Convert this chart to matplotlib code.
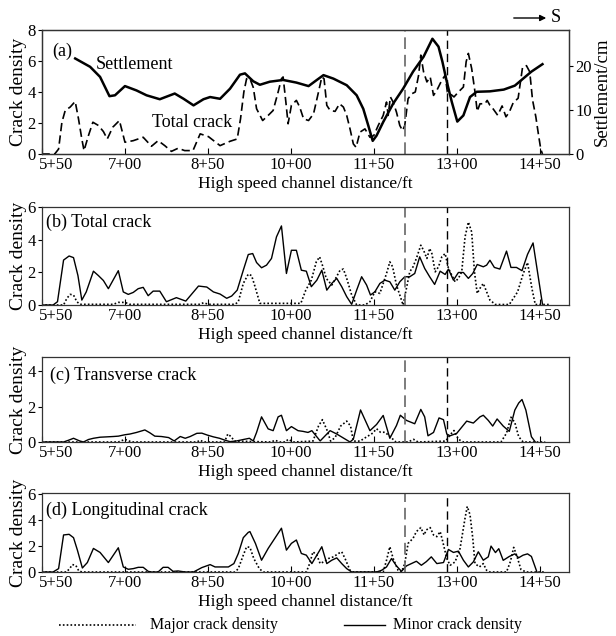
import matplotlib
matplotlib.use("Agg")
import matplotlib.pyplot as plt
import matplotlib.transforms as mtransforms
from matplotlib.lines import Line2D
from matplotlib.patches import FancyArrowPatch

plt.rcParams['font.family'] = ['Liberation Serif', 'DejaVu Serif']

# station along the channel in ft (5+50 -> 550)
tick_pos = [550, 700, 850, 1000, 1150, 1300, 1450]
tick_lab = ["5+50", "7+00", "8+50", "10+00", "11+50", "13+00", "14+50"]
guide_st = [1206, 1283]

# (a) settlement, cm (right axis)
settle_st = [610, 637, 655, 672, 682, 700, 721, 739, 763, 790, 806, 824, 842, 854, 872,
             890, 908, 917, 932, 944, 962, 986, 1010, 1032, 1047, 1059, 1077, 1101, 1119,
             1131, 1140, 1148, 1155, 1167, 1185, 1203, 1221, 1240, 1256, 1267, 1274, 1282,
             1291, 1301, 1312, 1324, 1336, 1360, 1385, 1405, 1420, 1435, 1455]
settle_cm = [21.8, 19.9, 17.6, 13.2, 13.4, 15.5, 14.5, 13.4, 12.5, 13.8, 12.6, 11.1, 12.5,
             13.0, 12.6, 14.9, 18.1, 18.4, 16.6, 15.8, 16.5, 16.9, 16.3, 15.5, 16.9, 18.0,
             17.2, 15.7, 13.4, 10.3, 6.5, 3.0, 4.2, 7.3, 11.5, 14.9, 18.8, 22.2, 26.3, 24.5,
             21.1, 16.5, 11.9, 7.4, 8.8, 13.0, 14.2, 14.3, 14.7, 15.6, 17.2, 18.8, 20.5]

# (a) total crack density
total_st = [549, 573, 580, 586, 592, 601, 610, 616, 622, 626, 634, 642, 652, 661, 668, 678,
            690, 700, 715, 733, 748, 760, 772, 784, 796, 808, 823, 836, 851, 872, 890, 903,
            909, 915, 920, 926, 932, 938, 949, 959, 968, 977, 983, 986, 991, 995, 1001, 1010,
            1016, 1023, 1032, 1041, 1050, 1056, 1060, 1065, 1071, 1080, 1088, 1095, 1101,
            1107, 1113, 1118, 1125, 1134, 1143, 1150, 1158, 1167, 1173, 1176, 1180, 1185,
            1191, 1197, 1202, 1206, 1212, 1219, 1225, 1231, 1235, 1240, 1246, 1252, 1258,
            1264, 1273, 1279, 1283, 1288, 1295, 1303, 1312, 1317, 1321, 1327, 1333, 1337,
            1342, 1351, 1355, 1360, 1366, 1374, 1382, 1389, 1395, 1402, 1411, 1419, 1426,
            1432, 1437, 1443, 1448, 1452, 1455]
total_val = [0, 0, 0.32, 2.05, 2.81, 3.03, 3.39, 2.27, 0.97, 0.22, 1.19, 2.05, 1.84, 1.45,
             0.97, 1.73, 2.16, 0.76, 0.86, 1.08, 0.50, 0.86, 0.54, 0.17, 0.37, 0.22, 0.22,
             1.30, 1.12, 0.54, 0.82, 0.97, 2.27, 4.0, 4.86, 4.86, 4.3, 2.92, 2.16, 2.49, 2.81,
             4.0, 4.86, 4.97, 3.35, 1.95, 3.14, 3.46, 3.03, 2.27, 2.16, 2.59, 4.0, 4.97, 4.86,
             3.14, 2.81, 2.75, 3.24, 3.03, 2.49, 1.62, 0.65, 0.43, 1.41, 1.62, 1.08, 1.19,
             1.84, 2.49, 3.35, 2.49, 3.68, 3.35, 2.70, 1.84, 1.51, 1.84, 3.57, 3.89, 4.0,
             5.08, 6.38, 5.30, 4.65, 4.97, 3.78, 4.11, 4.76, 5.08, 4.0, 3.89, 3.68, 4.0, 4.32,
             5.95, 6.49, 5.51, 4.0, 2.75, 3.24, 3.24, 3.46, 3.14, 2.9, 2.5, 3.1, 2.4, 2.7, 3.3,
             3.6, 5.6, 5.7, 5.3, 3.5, 2.4, 1.2, 0.3, 0]

# (b) total crack: minor (solid) and major (dotted)
b_minor_st = [549, 570, 578, 589, 599, 607, 615, 622, 630, 643, 652, 661, 670, 688, 697,
              706, 715, 724, 733, 742, 751, 763, 775, 793, 810, 833, 848, 860, 872, 884, 893,
              903, 914, 923, 931, 938, 947, 956, 965, 974, 983, 992, 1001, 1010, 1019, 1028,
              1037, 1047, 1056, 1065, 1074, 1083, 1092, 1101, 1110, 1119, 1128, 1137, 1144,
              1152, 1161, 1170, 1179, 1188, 1197, 1206, 1215, 1224, 1233, 1242, 1251, 1260,
              1270, 1279, 1285, 1294, 1303, 1312, 1321, 1329, 1337, 1348, 1354, 1360, 1368,
              1378, 1390, 1398, 1408, 1418, 1428, 1438, 1455]
b_minor = [0, 0, 0.2, 2.75, 3.0, 2.9, 1.8, 0.3, 0.8, 2.07, 1.8, 1.5, 1.0, 2.1, 0.8, 0.65,
           0.77, 1.0, 1.08, 0.57, 0.85, 0.85, 0.2, 0.45, 0.24, 1.16, 1.1, 0.8, 0.67, 0.41,
           0.55, 0.91, 2.13, 3.09, 3.15, 2.6, 2.28, 2.44, 2.85, 4.17, 4.84, 1.93, 3.35, 3.35,
           2.13, 2.07, 1.12, 1.52, 2.13, 0.91, 1.32, 1.63, 1.12, 0.51, 0.04, 0.91, 1.73, 1.22,
           0.61, 0.81, 1.32, 1.52, 1.42, 0.91, 1.42, 1.73, 1.73, 1.93, 2.95, 2.24, 1.73, 1.26,
           2.07, 1.87, 2.20, 1.52, 1.99, 1.99, 1.63, 1.93, 2.48, 2.34, 2.44, 2.74, 2.3, 2.2,
           3.3, 2.3, 2.3, 2.1, 3.1, 3.8, 0.05]
b_major_st = [549, 589, 595, 601, 607, 613, 619, 679, 688, 700, 709, 836, 842, 851, 899,
              905, 914, 923, 929, 935, 944, 1018, 1027, 1037, 1046, 1052, 1058, 1064, 1074,
              1081, 1089, 1095, 1101, 1110, 1119, 1134, 1143, 1152, 1161, 1167, 1173, 1179,
              1184, 1191, 1198, 1203, 1209, 1215, 1221, 1227, 1235, 1240, 1246, 1251, 1255,
              1261, 1267, 1273, 1279, 1285, 1291, 1297, 1303, 1309, 1315, 1321, 1327, 1332,
              1337, 1342, 1348, 1354, 1360, 1370, 1395, 1410, 1420, 1428, 1436, 1442, 1470]
b_major = [0, 0, 0.41, 0.65, 0.61, 0.2, 0.04, 0.04, 0.16, 0.16, 0.04, 0.04, 0.14, 0.04,
           0.04, 0.2, 1.32, 1.89, 1.8, 1.15, 0.1, 0.1, 0.91, 1.52, 2.64, 2.95, 2.34, 1.63,
           1.22, 1.63, 2.13, 2.2, 1.63, 0.61, 0, 0, 0.2, 0.81, 0.71, 1.32, 1.93, 2.64, 2.34,
           1.22, 0.51, 0, 1.02, 2.03, 2.34, 2.85, 3.66, 3.35, 2.85, 3.46, 3.15, 2.03, 2.34,
           2.95, 3.15, 2.24, 1.83, 1.42, 1.63, 2.03, 4.17, 5.08, 4.47, 2.03, 0.71, 1.02, 1.32,
           0.81, 0.3, 0.03, 0.03, 0.8, 1.9, 2.6, 1.0, 0.03, 0.03]

# (c) transverse crack
c_minor_st = [549, 589, 598, 607, 618, 625, 634, 643, 655, 667, 679, 688, 700, 709, 721,
              736, 745, 754, 766, 779, 789, 800, 809, 818, 830, 839, 849, 860, 871, 881, 890,
              902, 914, 925, 932, 938, 947, 959, 968, 977, 983, 992, 1001, 1013, 1022, 1031,
              1038, 1053, 1071, 1083, 1107, 1113, 1126, 1143, 1155, 1167, 1179, 1191, 1198,
              1209, 1224, 1235, 1242, 1248, 1258, 1268, 1276, 1282, 1288, 1300, 1318, 1330,
              1342, 1348, 1357, 1365, 1373, 1384, 1395, 1405, 1412, 1418, 1425, 1435, 1442]
c_minor = [0, 0, 0.1, 0.21, 0.06, 0, 0.14, 0.21, 0.27, 0.29, 0.31, 0.33, 0.41, 0.45, 0.54,
           0.68, 0.52, 0.33, 0.31, 0.25, 0.06, 0.31, 0.21, 0.31, 0.49, 0.5, 0.39, 0.29, 0.21,
           0.1, 0.02, 0.06, 0.14, 0.21, 0.06, 0.54, 1.42, 0.74, 0.64, 1.42, 1.51, 0.64, 0.87,
           0.64, 0.6, 0.54, 0.64, 0.06, 0.64, 0.45, 0, 0.16, 1.81, 0.64, 0.99, 1.5, 0.21, 0.93,
           1.51, 1.22, 1.03, 1.84, 1.42, 0.35, 0.54, 1.36, 1.26, 0.45, 0.35, 0.49, 1.18, 1.07,
           1.42, 1.51, 1.22, 0.9, 1.3, 0.9, 0.6, 1.8, 2.2, 2.4, 1.8, 0.3, 0]
c_major_st = [549, 688, 700, 712, 830, 836, 842, 880, 886, 892, 898, 965, 971, 980, 990,
              995, 1005, 1040, 1050, 1057, 1065, 1072, 1080, 1090, 1101, 1108, 1113, 1125,
              1135, 1148, 1155, 1162, 1170, 1178, 1190, 1212, 1222, 1230, 1280, 1288, 1295,
              1303, 1312, 1380, 1390, 1398, 1405, 1412, 1420, 1460]
c_major = [0, 0, 0.15, 0, 0, 0.1, 0, 0, 0.45, 0.3, 0.05, 0, 0.1, 0, 0, 0.15, 0, 0.05, 0.9,
           1.26, 0.7, 0.05, 0.25, 0.9, 1.18, 0.9, 0.05, 0.05, 0.25, 0.5, 0.75, 0.55, 0.55,
           0.35, 0, 0, 0.15, 0, 0.05, 0.4, 0.65, 0.15, 0, 0, 0.5, 1.4, 1.1, 0.3, 0, 0]

# (d) longitudinal crack
d_minor_st = [549, 570, 580, 589, 599, 607, 614, 623, 632, 643, 655, 670, 688, 697, 706,
              715, 724, 733, 742, 748, 760, 769, 778, 787, 796, 809, 824, 839, 854, 863, 887,
              897, 905, 914, 923, 926, 936, 947, 959, 971, 983, 992, 1001, 1010, 1019, 1028,
              1038, 1047, 1056, 1065, 1074, 1083, 1092, 1101, 1110, 1155, 1164, 1173, 1182,
              1191, 1200, 1209, 1218, 1227, 1236, 1245, 1254, 1264, 1276, 1285, 1294, 1303,
              1312, 1321, 1330, 1339, 1348, 1357, 1362, 1370, 1376, 1384, 1395, 1405, 1412,
              1420, 1428, 1435, 1445]
d_minor = [0, 0, 0.26, 2.86, 2.91, 2.65, 1.69, 0.31, 0.73, 1.82, 1.51, 0.73, 1.87, 0.39,
           0.21, 0.26, 0.36, 0.36, 0.05, 0, 0, 0.36, 0.36, 0.05, 0.08, 0, 0, 0.34, 0.57, 0.39,
           0.39, 0.65, 1.43, 2.65, 3.06, 3.12, 2.2, 0.91, 1.82, 2.6, 3.38, 1.69, 2.21, 2.47,
           1.43, 1.3, 0.65, 1.3, 1.95, 0.65, 0.91, 1.09, 0.65, 0.26, 0, 0, 0.13, 0.39, 1.04,
           0.47, 0.05, 0.47, 0.65, 0.83, 0.52, 0.8, 1.17, 0.65, 0.73, 1.74, 1.51, 1.61, 0.91,
           0.39, 0.78, 1.56, 0.91, 1.17, 2.0, 1.5, 1.8, 0.9, 1.2, 1.4, 1.1, 1.3, 1.4, 1.2, 0]
d_major_st = [549, 594, 600, 605, 611, 617, 624, 899, 905, 914, 920, 926, 933, 943, 950,
              1028, 1034, 1040, 1047, 1053, 1059, 1068, 1077, 1086, 1092, 1098, 1107, 1112,
              1167, 1173, 1179, 1185, 1194, 1200, 1206, 1212, 1221, 1227, 1235, 1241, 1245,
              1252, 1258, 1264, 1270, 1274, 1282, 1288, 1297, 1306, 1315, 1319, 1324, 1329,
              1333, 1341, 1348, 1354, 1360, 1390, 1397, 1403, 1409, 1416, 1425, 1460]
d_major = [0, 0, 0.26, 0.57, 0.52, 0.05, 0, 0, 0.26, 1.3, 1.95, 1.9, 1.04, 0.26, 0, 0,
           0.65, 1.56, 1.3, 0.65, 0.78, 1.04, 1.17, 1.43, 1.56, 1.04, 0.13, 0, 0, 0.91, 1.95,
           1.04, 0.13, 0, 0.65, 2.21, 2.6, 3.12, 3.43, 2.86, 3.25, 3.43, 2.86, 2.73, 3.12,
           2.47, 1.04, 0.52, 0.78, 1.82, 4.16, 5.06, 4.42, 2.6, 0.65, 0.39, 0.65, 0.13, 0, 0,
           0.8, 1.9, 1.2, 0.2, 0, 0]

DOT = (0, (1, 1.3))
W, H = 616, 636
LEFT, RIGHT = 42, 569


def px_box(top, bottom):
    return [LEFT / W, 1 - bottom / H, (RIGHT - LEFT) / W, (bottom - top) / H]


def style(ax, ylim, yticks):
    ax.set_xlim(550, 550 + (RIGHT - LEFT) / 0.553)
    ax.set_ylim(*ylim)
    ax.set_yticks(yticks)
    ax.set_xticks(tick_pos)
    ax.set_xticklabels(tick_lab)
    ax.tick_params(axis='x', direction='in', length=4, pad=2, labelsize=12)
    ax.tick_params(axis='y', direction='out', length=3, pad=1.5, labelsize=12)
    ax.tick_params(top=False, right=False)
    for s in ax.spines.values():
        s.set_linewidth(0.9)
        s.set_color('#333333')
    ax.set_xlabel("High speed channel distance/ft", fontsize=12.5, labelpad=2)
    ax.set_ylabel("Crack density", fontsize=14)
    ax.yaxis.set_label_coords(-0.028, 0.5)
    lab = ax.get_xticklabels()[0]
    lab.set_transform(lab.get_transform() + mtransforms.ScaledTranslation(0.14, 0, fig.dpi_scale_trans))
    ax.axvline(guide_st[0], color='#666666', lw=1.2, dashes=(7, 3.5))
    ax.axvline(guide_st[1], color='black', lw=1.0, dashes=(6, 3.5))


fig = plt.figure(figsize=(6.16, 6.36), dpi=100)

# (a)
ax_a = fig.add_axes(px_box(30, 154))
ax_a.plot(total_st, total_val, color='black', lw=1.2, dashes=(5, 2.5))
style(ax_a, (0, 8), [0, 2, 4, 6, 8])
ax_r = ax_a.twinx()
ax_r.plot(settle_st, settle_cm, color='black', lw=1.8)
ax_r.set_ylim(0, 28.3)
ax_r.set_yticks([0, 10, 20])
ax_r.tick_params(axis='y', direction='out', length=3, pad=1.5, labelsize=12)
ax_r.set_ylabel("Settlement/cm", fontsize=13.5)
ax_r.yaxis.set_label_coords(1.047, 0.5)
for s in ax_r.spines.values():
    s.set_linewidth(0.9)
    s.set_color('#333333')
ax_a.text(0.019, 0.83, "(a)", transform=ax_a.transAxes, fontsize=13, va='center')
ax_a.text(0.176, 0.718, "Settlement", transform=ax_a.transAxes, fontsize=13,
          ha='center', va='center')
ax_a.text(0.284, 0.258, "Total crack", transform=ax_a.transAxes, fontsize=13,
          ha='center', va='center')

# (b)
ax_b = fig.add_axes(px_box(207, 305))
ax_b.plot(b_minor_st, b_minor, color='black', lw=1.0)
ax_b.plot(b_major_st, b_major, color='black', lw=1.2, linestyle=DOT)
style(ax_b, (0, 6), [0, 2, 4, 6])
ax_b.text(0.008, 0.84, "(b) Total crack", transform=ax_b.transAxes, fontsize=13, va='center')

# (c)
ax_c = fig.add_axes(px_box(357, 442))
ax_c.plot(c_minor_st, c_minor, color='black', lw=1.0)
ax_c.plot(c_major_st, c_major, color='black', lw=1.2, linestyle=DOT)
style(ax_c, (0, 4.8), [0, 2, 4])
ax_c.text(0.016, 0.79, "(c) Transverse crack", transform=ax_c.transAxes, fontsize=13,
          va='center')

# (d)
ax_d = fig.add_axes(px_box(493, 572))
ax_d.plot(d_minor_st, d_minor, color='black', lw=1.0)
ax_d.plot(d_major_st, d_major, color='black', lw=1.2, linestyle=DOT)
style(ax_d, (0, 6.1), [0, 2, 4, 6])
ax_d.text(0.008, 0.78, "(d) Longitudinal crack", transform=ax_d.transAxes, fontsize=13,
          va='center')

# direction arrow
fig.add_artist(FancyArrowPatch((511 / W, 1 - 18 / H), (549 / W, 1 - 18 / H),
                               transform=fig.transFigure, arrowstyle='-|>',
                               mutation_scale=9, lw=1.0, color='black'))
fig.text(551 / W, 1 - 18 / H, "S", fontsize=13, va='center')

# legend
ly = 1 - 625 / H
fig.add_artist(Line2D([59 / W, 136 / W], [ly, ly], transform=fig.transFigure,
                      color='black', lw=1.2, linestyle=DOT))
fig.text(150 / W, ly, "Major crack density", fontsize=11.5, va='center')
fig.add_artist(Line2D([344 / W, 385 / W], [ly, ly], transform=fig.transFigure,
                      color='black', lw=1.0))
fig.text(393 / W, ly, "Minor crack density", fontsize=11.5, va='center')

fig.savefig("out.png", dpi=100)
